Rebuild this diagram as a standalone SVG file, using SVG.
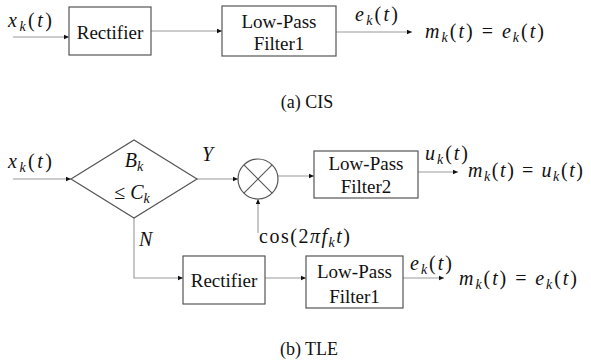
<svg xmlns="http://www.w3.org/2000/svg" width="591" height="363" viewBox="0 0 591 363">
<style>
.box{fill:#fff;stroke:#555;stroke-width:1.2}
.ln{fill:none;stroke:#999;stroke-width:1.1}
.lbl{font-family:"Liberation Serif","DejaVu Serif",serif;font-size:19px;fill:#111;text-anchor:middle}
.cap{font-family:"Liberation Serif","DejaVu Serif",serif;font-size:18px;fill:#111;text-anchor:middle}
.m{font-family:"Liberation Serif","DejaVu Serif",serif;font-size:20px;fill:#111;font-style:italic}
.u{font-style:normal}
.s{font-size:14px}
</style>
<defs>
<marker id="ah" markerUnits="userSpaceOnUse" markerWidth="6" markerHeight="6" refX="5" refY="3" orient="auto">
<path d="M0,0.8 L5,3 L0,5.2 Z" fill="#111"/>
</marker>
</defs>
<rect width="591" height="363" fill="#fff"/>

<g id="connectors">
<line class="ln" x1="13" y1="37" x2="69" y2="37" marker-end="url(#ah)"/>
<line class="ln" x1="151" y1="31" x2="222" y2="31" marker-end="url(#ah)"/>
<line class="ln" x1="336" y1="32" x2="412" y2="32" marker-end="url(#ah)"/>
<line class="ln" x1="13" y1="179" x2="71" y2="179" marker-end="url(#ah)"/>
<line class="ln" x1="197" y1="179" x2="238" y2="179" marker-end="url(#ah)"/>
<line class="ln" x1="278" y1="176" x2="314" y2="176" marker-end="url(#ah)"/>
<line class="ln" x1="418" y1="172" x2="458" y2="172" marker-end="url(#ah)"/>
<line class="ln" x1="258" y1="233" x2="258" y2="199" marker-end="url(#ah)"/>
<polyline class="ln" points="134,218 134,278 183,278" marker-end="url(#ah)"/>
<line class="ln" x1="265" y1="278" x2="306" y2="278" marker-end="url(#ah)"/>
<line class="ln" x1="403" y1="278" x2="444" y2="278" marker-end="url(#ah)"/>
</g>

<g id="cis-rectifier">
<rect class="box" x="69" y="7" width="82" height="48"/>
<text class="lbl" x="110" y="39">Rectifier</text>
</g>
<g id="cis-lpf1">
<rect class="box" x="222" y="6" width="114" height="50"/>
<text class="lbl" x="279" y="28">Low-Pass</text>
<text class="lbl" x="279" y="50">Filter1</text>
</g>

<g id="tle-decision">
<polygon class="box" points="71,179 134,140 197,179 134,218"/>
<text class="m" x="134" y="167" text-anchor="middle">B<tspan class="s" dy="4">k</tspan></text>
<text class="m" x="132" y="199" text-anchor="middle"><tspan class="u">≤ </tspan>C<tspan class="s" dy="4">k</tspan></text>
</g>
<g id="tle-mixer">
<circle class="box" cx="258" cy="179" r="20"/>
<path class="ln" d="M243.9,164.9 L272.1,193.1 M272.1,164.9 L243.9,193.1" style="stroke:#555"/>
</g>
<g id="tle-lpf2">
<rect class="box" x="314" y="151" width="104" height="47"/>
<text class="lbl" x="366" y="170">Low-Pass</text>
<text class="lbl" x="366" y="193">Filter2</text>
</g>
<g id="tle-rectifier">
<rect class="box" x="183" y="256" width="82" height="48"/>
<text class="lbl" x="224" y="287">Rectifier</text>
</g>
<g id="tle-lpf1">
<rect class="box" x="306" y="256" width="97" height="52"/>
<text class="lbl" x="354.5" y="278">Low-Pass</text>
<text class="lbl" x="354.5" y="303">Filter1</text>
</g>

<g id="labels">
<text class="m" x="8" y="27" textLength="44">x<tspan class="s" dy="4">k</tspan><tspan class="u" dy="-4">(</tspan>t<tspan class="u">)</tspan></text>
<text class="m" x="355" y="21" textLength="43">e<tspan class="s" dy="4">k</tspan><tspan class="u" dy="-4">(</tspan>t<tspan class="u">)</tspan></text>
<text class="m" x="425" y="38" textLength="119">m<tspan class="s" dy="4">k</tspan><tspan class="u" dy="-4">(</tspan>t<tspan class="u">) = </tspan>e<tspan class="s" dy="4">k</tspan><tspan class="u" dy="-4">(</tspan>t<tspan class="u">)</tspan></text>
<text class="cap" x="307" y="108">(a) CIS</text>

<text class="m" x="8" y="168" textLength="44">x<tspan class="s" dy="4">k</tspan><tspan class="u" dy="-4">(</tspan>t<tspan class="u">)</tspan></text>
<text class="m" x="202" y="161">Y</text>
<text class="m" x="425" y="160" textLength="43">u<tspan class="s" dy="4">k</tspan><tspan class="u" dy="-4">(</tspan>t<tspan class="u">)</tspan></text>
<text class="m" x="468" y="177" textLength="115">m<tspan class="s" dy="4">k</tspan><tspan class="u" dy="-4">(</tspan>t<tspan class="u">) = </tspan>u<tspan class="s" dy="4">k</tspan><tspan class="u" dy="-4">(</tspan>t<tspan class="u">)</tspan></text>
<text class="m" x="259" y="243" textLength="91"><tspan class="u">cos(2</tspan>πf<tspan class="s" dy="4">k</tspan><tspan dy="-4">t</tspan><tspan class="u">)</tspan></text>
<text class="m" x="139" y="246">N</text>
<text class="m" x="410" y="270" textLength="42">e<tspan class="s" dy="4">k</tspan><tspan class="u" dy="-4">(</tspan>t<tspan class="u">)</tspan></text>
<text class="m" x="459" y="285" textLength="118">m<tspan class="s" dy="4">k</tspan><tspan class="u" dy="-4">(</tspan>t<tspan class="u">) = </tspan>e<tspan class="s" dy="4">k</tspan><tspan class="u" dy="-4">(</tspan>t<tspan class="u">)</tspan></text>
<text class="cap" x="309" y="355">(b) TLE</text>
</g>
</svg>
